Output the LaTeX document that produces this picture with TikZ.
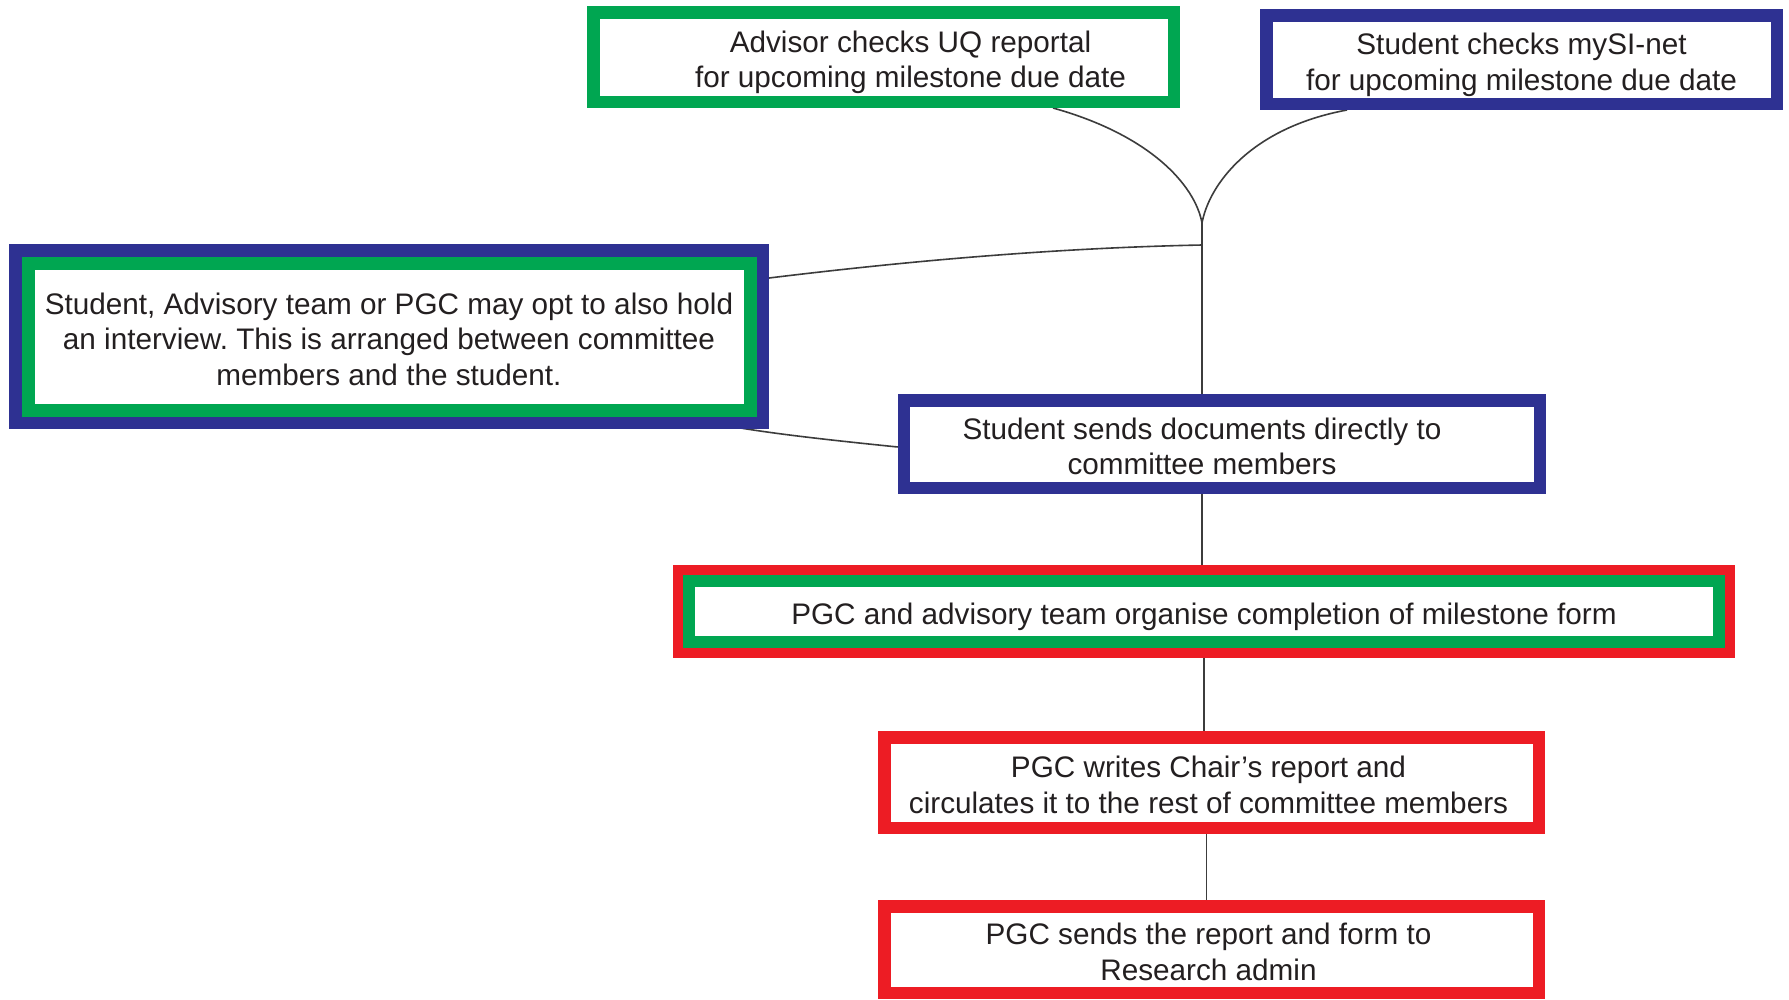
\documentclass[tikz,border=0pt]{standalone}
\usepackage{fontspec}
\setmainfont{Liberation Sans}
\usetikzlibrary{backgrounds}
\definecolor{bgreen}{RGB}{0,166,81}
\definecolor{bblue}{RGB}{46,49,146}
\definecolor{bred}{RGB}{237,28,36}
\definecolor{txtc}{RGB}{35,31,32}
\definecolor{linec}{RGB}{60,60,60}
\frenchspacing
\newcommand\mylines[1]{\raisebox{-6pt}[\height][\depth]{\begin{tabular}{@{}c@{}}#1\end{tabular}}}
\begin{document}
\begin{tikzpicture}[x=1pt,y=-1pt,
  box/.style={draw, fill=white, line width=12.5pt, inner sep=0pt, align=center, text=txtc,
    font=\fontsize{29.7}{35.5}\selectfont},
  conn/.style={draw=linec, line width=1.6pt}]
\useasboundingbox (0,0) rectangle (1789,999);

\node[box, draw=bgreen, minimum width=580.5pt, minimum height=89.5pt] (a) at (883.5,57)
  {\hspace*{54pt}\mylines{Advisor checks UQ reportal\\for upcoming milestone due date}};
\node[box, draw=bblue, minimum width=510.5pt, minimum height=88.5pt] (b) at (1521.5,59.5)
  {\mylines{Student checks mySI-net\\for upcoming milestone due date}};
\node[box, draw=bblue, minimum width=747.5pt, minimum height=172.5pt] (c) at (389,336.5)
  {\mylines{Student, Advisory team or PGC may opt to also hold\\an interview. This is arranged between committee\\members and the student.}};
\draw[bgreen, line width=13pt] ([shift={(19,19)}]c.north west) rectangle ([shift={(-19,-19)}]c.south east);
\node[box, draw=bblue, minimum width=636pt, minimum height=87.5pt] (d) at (1222,444)
  {\hspace*{-40pt}\mylines{Student sends documents directly to\\committee members}};
\node[box, draw=bred, line width=10pt, minimum width=1052pt, minimum height=83pt] (e) at (1204,611.5)
  {\mylines{PGC and advisory team organise completion of milestone form}};
\draw[bgreen, line width=12pt] ([shift={(16,16)}]e.north west) rectangle ([shift={(-16,-16)}]e.south east);
\node[box, draw=bred, minimum width=654.5pt, minimum height=90.5pt] (f) at (1211.5,782.5)
  {\hspace*{-6pt}\mylines{PGC writes Chair’s report and\\circulates it to the rest of committee members}};
\node[box, draw=bred, minimum width=654.5pt, minimum height=86.5pt] (g) at (1211.5,949.5)
  {\hspace*{-6pt}\mylines{PGC sends the report and form to\\Research admin}};

\coordinate (j) at (1202,223);
\coordinate (k) at (1202,245);
\begin{pgfonlayer}{background}
\fill[white] (0,0) rectangle (1789,999);
\draw[conn] ([xshift=169.5pt]a.south) .. controls (1150,135) and (1195,185) .. (j);
\draw[conn] ([xshift=-174.5pt]b.south) .. controls (1250,128) and (1209,185) .. (j);
\draw[conn] (j) -- (j |- d.north);
\draw[conn] ([yshift=58.5pt]c.east) .. controls (900,262) and (1050,248) .. (k);
\draw[conn] ([shift={(289,77.5)}]c.center) .. controls (720,428) and (800,437) .. ([yshift=-3pt]d.west);
\draw[conn] (d.south -| j) -- (e.north -| j);
\draw[conn] (e.south) -- (e.south |- f.north);
\draw[conn] ([xshift=-5pt]f.south) -- ([xshift=-5pt]g.north);
\end{pgfonlayer}
\end{tikzpicture}
\end{document}
